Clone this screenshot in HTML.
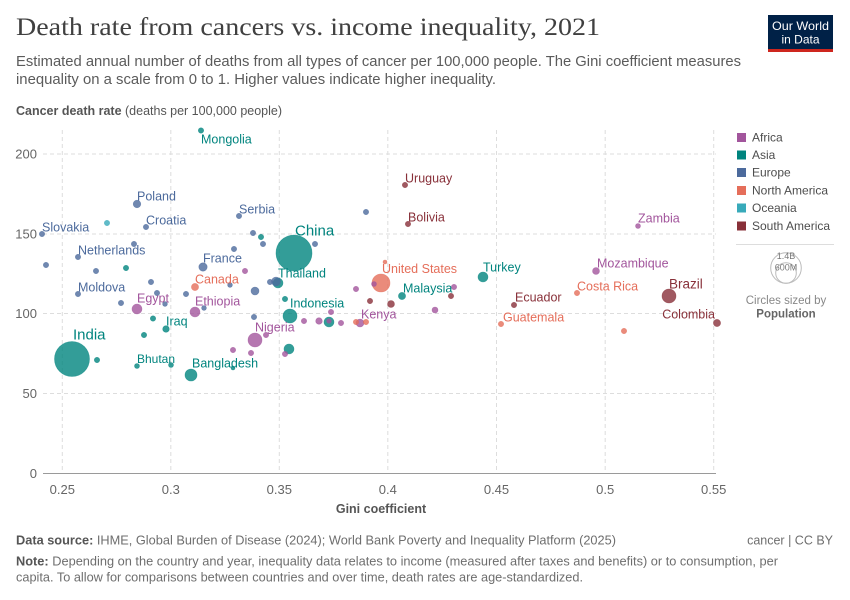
<!DOCTYPE html>
<html><head><meta charset="utf-8"><style>
html,body{margin:0;padding:0;background:#fff;}
svg{display:block;font-family:"Liberation Sans",sans-serif;}
</style></head><body>
<svg width="850" height="600" viewBox="0 0 850 600" xmlns="http://www.w3.org/2000/svg">
<!-- Header -->
<text x="16" y="35" font-family="Liberation Serif, serif" font-size="25" fill="#404040" textLength="584" lengthAdjust="spacingAndGlyphs">Death rate from cancers vs. income inequality, 2021</text>
<text x="16" y="66" font-size="14.5" fill="#5b5b5b" textLength="725" lengthAdjust="spacingAndGlyphs">Estimated annual number of deaths from all types of cancer per 100,000 people. The Gini coefficient measures</text>
<text x="16" y="84" font-size="14.5" fill="#5b5b5b" textLength="480" lengthAdjust="spacingAndGlyphs">inequality on a scale from 0 to 1. Higher values indicate higher inequality.</text>
<rect x="768" y="15" width="65" height="37" fill="#002147"/>
<rect x="768" y="49" width="65" height="3" fill="#ce261e"/>
<text x="800.5" y="30" font-size="12" fill="#fff" text-anchor="middle" textLength="57" lengthAdjust="spacingAndGlyphs">Our World</text>
<text x="800.5" y="43.5" font-size="12" fill="#fff" text-anchor="middle" textLength="38" lengthAdjust="spacingAndGlyphs">in Data</text>

<!-- Y axis title -->
<text x="16" y="115" font-size="12.5" fill="#555" textLength="266" lengthAdjust="spacingAndGlyphs"><tspan font-weight="bold">Cancer death rate</tspan> (deaths per 100,000 people)</text>

<!-- Grid -->
<g stroke="#dddddd" stroke-width="1" stroke-dasharray="4,3" fill="none">
<line x1="43" y1="154" x2="716" y2="154"/>
<line x1="43" y1="234" x2="716" y2="234"/>
<line x1="43" y1="313.5" x2="716" y2="313.5"/>
<line x1="43" y1="393.5" x2="716" y2="393.5"/>
<line x1="62.3" y1="130" x2="62.3" y2="473"/>
<line x1="170.8" y1="130" x2="170.8" y2="473"/>
<line x1="279.3" y1="130" x2="279.3" y2="473"/>
<line x1="387.8" y1="130" x2="387.8" y2="473"/>
<line x1="496.5" y1="130" x2="496.5" y2="473"/>
<line x1="605.2" y1="130" x2="605.2" y2="473"/>
<line x1="713.7" y1="130" x2="713.7" y2="473"/>
</g>
<line x1="43" y1="473.5" x2="716" y2="473.5" stroke="#9a9a9a" stroke-width="1"/>

<!-- Y ticks -->
<g font-size="13" fill="#666" text-anchor="end">
<text x="37" y="158.5">200</text>
<text x="37" y="238.5">150</text>
<text x="37" y="318">100</text>
<text x="37" y="398">50</text>
<text x="37" y="478">0</text>
</g>
<!-- X ticks -->
<g font-size="13" fill="#666" text-anchor="middle">
<text x="62.3" y="494">0.25</text>
<text x="170.8" y="494">0.3</text>
<text x="279.3" y="494">0.35</text>
<text x="387.8" y="494">0.4</text>
<text x="496.5" y="494">0.45</text>
<text x="605.2" y="494">0.5</text>
<text x="713.7" y="494">0.55</text>
</g>
<text x="381" y="513" font-size="12.5" font-weight="bold" fill="#555" text-anchor="middle">Gini coefficient</text>

<!-- Points: large first -->
<g fill-opacity="0.8" stroke-width="0.6" stroke-opacity="0.6">
<!-- big -->
<circle cx="294" cy="253" r="18" fill="#00847e" stroke="#00847e"/>
<circle cx="72" cy="359" r="17.5" fill="#00847e" stroke="#00847e"/>
<circle cx="381" cy="283" r="9" fill="#e56e5a" stroke="#e56e5a"/>
<circle cx="290" cy="316" r="7" fill="#00847e" stroke="#00847e"/>
<circle cx="255" cy="340" r="7" fill="#a2559c" stroke="#a2559c"/>
<circle cx="669" cy="296" r="7" fill="#883039" stroke="#883039"/>
<circle cx="191" cy="375" r="6" fill="#00847e" stroke="#00847e"/>
<circle cx="137" cy="309" r="5" fill="#a2559c" stroke="#a2559c"/>
<circle cx="195" cy="312" r="5" fill="#a2559c" stroke="#a2559c"/>
<circle cx="278" cy="283" r="5" fill="#00847e" stroke="#00847e"/>
<circle cx="329" cy="322" r="5" fill="#00847e" stroke="#00847e"/>
<circle cx="289" cy="349" r="5" fill="#00847e" stroke="#00847e"/>
<circle cx="483" cy="277" r="5" fill="#00847e" stroke="#00847e"/>
<circle cx="276" cy="281.5" r="4.5" fill="#4c6a9c" stroke="#4c6a9c"/>
<circle cx="203" cy="267" r="4.2" fill="#4c6a9c" stroke="#4c6a9c"/>
<circle cx="255" cy="291" r="4" fill="#4c6a9c" stroke="#4c6a9c"/>
<circle cx="360" cy="323" r="4" fill="#a2559c" stroke="#a2559c"/>
<circle cx="137" cy="204" r="3.8" fill="#4c6a9c" stroke="#4c6a9c"/>
<circle cx="195" cy="287" r="3.6" fill="#e56e5a" stroke="#e56e5a"/>
<circle cx="402" cy="296" r="3.6" fill="#00847e" stroke="#00847e"/>
<circle cx="391" cy="304" r="3.5" fill="#883039" stroke="#883039"/>
<circle cx="596" cy="271" r="3.5" fill="#a2559c" stroke="#a2559c"/>
<circle cx="717" cy="323" r="3.6" fill="#883039" stroke="#883039"/>
<circle cx="166" cy="329" r="3.3" fill="#00847e" stroke="#00847e"/>
<circle cx="319" cy="321" r="3.3" fill="#a2559c" stroke="#a2559c"/>
<circle cx="435" cy="310" r="3" fill="#a2559c" stroke="#a2559c"/>
<!-- small Europe -->
<circle cx="146" cy="227" r="2.7" fill="#4c6a9c" stroke="#4c6a9c"/>
<circle cx="42" cy="234" r="2.7" fill="#4c6a9c" stroke="#4c6a9c"/>
<circle cx="239" cy="216" r="2.7" fill="#4c6a9c" stroke="#4c6a9c"/>
<circle cx="134" cy="244" r="2.7" fill="#4c6a9c" stroke="#4c6a9c"/>
<circle cx="78" cy="257" r="2.7" fill="#4c6a9c" stroke="#4c6a9c"/>
<circle cx="46" cy="265" r="2.7" fill="#4c6a9c" stroke="#4c6a9c"/>
<circle cx="96" cy="271" r="2.7" fill="#4c6a9c" stroke="#4c6a9c"/>
<circle cx="78" cy="294" r="2.7" fill="#4c6a9c" stroke="#4c6a9c"/>
<circle cx="151" cy="282" r="2.7" fill="#4c6a9c" stroke="#4c6a9c"/>
<circle cx="157" cy="293" r="2.7" fill="#4c6a9c" stroke="#4c6a9c"/>
<circle cx="165" cy="304" r="2.4" fill="#4c6a9c" stroke="#4c6a9c"/>
<circle cx="121" cy="303" r="2.7" fill="#4c6a9c" stroke="#4c6a9c"/>
<circle cx="186" cy="294" r="2.7" fill="#4c6a9c" stroke="#4c6a9c"/>
<circle cx="204" cy="308" r="2.4" fill="#4c6a9c" stroke="#4c6a9c"/>
<circle cx="253" cy="233" r="2.7" fill="#4c6a9c" stroke="#4c6a9c"/>
<circle cx="263" cy="244" r="2.7" fill="#4c6a9c" stroke="#4c6a9c"/>
<circle cx="234" cy="249" r="2.7" fill="#4c6a9c" stroke="#4c6a9c"/>
<circle cx="315" cy="244" r="2.7" fill="#4c6a9c" stroke="#4c6a9c"/>
<circle cx="366" cy="212" r="2.7" fill="#4c6a9c" stroke="#4c6a9c"/>
<circle cx="230" cy="285" r="2.4" fill="#4c6a9c" stroke="#4c6a9c"/>
<circle cx="270" cy="282" r="2.7" fill="#4c6a9c" stroke="#4c6a9c"/>
<circle cx="254" cy="317" r="2.7" fill="#4c6a9c" stroke="#4c6a9c"/>
<!-- small Asia -->
<circle cx="201" cy="130.5" r="2.7" fill="#00847e" stroke="#00847e"/>
<circle cx="126" cy="268" r="2.7" fill="#00847e" stroke="#00847e"/>
<circle cx="261" cy="237" r="2.7" fill="#00847e" stroke="#00847e"/>
<circle cx="285" cy="299" r="2.7" fill="#00847e" stroke="#00847e"/>
<circle cx="153" cy="318.5" r="2.7" fill="#00847e" stroke="#00847e"/>
<circle cx="144" cy="335" r="2.7" fill="#00847e" stroke="#00847e"/>
<circle cx="97" cy="360" r="2.7" fill="#00847e" stroke="#00847e"/>
<circle cx="137" cy="366" r="2.5" fill="#00847e" stroke="#00847e"/>
<circle cx="171" cy="365" r="2.5" fill="#00847e" stroke="#00847e"/>
<circle cx="233" cy="368" r="2" fill="#00847e" stroke="#00847e"/>
<!-- Oceania -->
<circle cx="107" cy="223" r="2.7" fill="#38aaba" stroke="#38aaba"/>
<!-- small NA -->
<circle cx="385" cy="262" r="2" fill="#e56e5a" stroke="#e56e5a"/>
<circle cx="356" cy="322" r="2.7" fill="#e56e5a" stroke="#e56e5a"/>
<circle cx="366" cy="322" r="2.7" fill="#e56e5a" stroke="#e56e5a"/>
<circle cx="577" cy="293" r="2.7" fill="#e56e5a" stroke="#e56e5a"/>
<circle cx="501" cy="324" r="2.7" fill="#e56e5a" stroke="#e56e5a"/>
<circle cx="624" cy="331" r="2.7" fill="#e56e5a" stroke="#e56e5a"/>
<!-- small Africa -->
<circle cx="266" cy="335" r="2.7" fill="#a2559c" stroke="#a2559c"/>
<circle cx="233" cy="350" r="2.7" fill="#a2559c" stroke="#a2559c"/>
<circle cx="251" cy="353" r="2.7" fill="#a2559c" stroke="#a2559c"/>
<circle cx="285" cy="354" r="2.7" fill="#a2559c" stroke="#a2559c"/>
<circle cx="245" cy="271" r="2.7" fill="#a2559c" stroke="#a2559c"/>
<circle cx="304" cy="321" r="2.7" fill="#a2559c" stroke="#a2559c"/>
<circle cx="331" cy="312" r="2.7" fill="#a2559c" stroke="#a2559c"/>
<circle cx="329" cy="321" r="2.3" fill="#a2559c" stroke="#a2559c"/>
<circle cx="341" cy="323" r="2.7" fill="#a2559c" stroke="#a2559c"/>
<circle cx="356" cy="289" r="2.7" fill="#a2559c" stroke="#a2559c"/>
<circle cx="374" cy="284" r="2.5" fill="#a2559c" stroke="#a2559c"/>
<circle cx="454" cy="287" r="2.7" fill="#a2559c" stroke="#a2559c"/>
<circle cx="638" cy="226" r="2.5" fill="#a2559c" stroke="#a2559c"/>
<!-- small SA -->
<circle cx="405" cy="185" r="2.7" fill="#883039" stroke="#883039"/>
<circle cx="408" cy="224" r="2.7" fill="#883039" stroke="#883039"/>
<circle cx="370" cy="301" r="2.7" fill="#883039" stroke="#883039"/>
<circle cx="451" cy="296" r="2.7" fill="#883039" stroke="#883039"/>
<circle cx="514" cy="305" r="2.7" fill="#883039" stroke="#883039"/>
</g>

<!-- Labels -->
<g font-size="12.5">
<g fill="#00847e">
<text x="201" y="143.5">Mongolia</text>
<text x="166" y="325.5">Iraq</text>
<text x="137" y="363" font-size="12">Bhutan</text>
<text x="192" y="367.5">Bangladesh</text>
<text x="278" y="277.5">Thailand</text>
<text x="290" y="307.5">Indonesia</text>
<text x="403" y="292.5">Malaysia</text>
<text x="483" y="271.5">Turkey</text>
<text x="73" y="339.5" font-size="15">India</text>
<text x="295" y="235.5" font-size="15">China</text>
</g>
<g fill="#4c6a9c">
<text x="137" y="200.5">Poland</text>
<text x="146" y="224.5">Croatia</text>
<text x="42" y="231.5">Slovakia</text>
<text x="239" y="213.5">Serbia</text>
<text x="78" y="254.5">Netherlands</text>
<text x="203" y="262.5">France</text>
<text x="78" y="291.5">Moldova</text>
</g>
<g fill="#a2559c">
<text x="137" y="302.5">Egypt</text>
<text x="195" y="305.5">Ethiopia</text>
<text x="255" y="331.5">Nigeria</text>
<text x="361" y="318.5">Kenya</text>
<text x="638" y="222.5">Zambia</text>
<text x="597" y="267.5">Mozambique</text>
</g>
<g fill="#e56e5a">
<text x="195" y="283.5">Canada</text>
<text x="382" y="273">United States</text>
<text x="577" y="290.5">Costa Rica</text>
<text x="503" y="321.5">Guatemala</text>
</g>
<g fill="#883039">
<text x="405" y="182.5">Uruguay</text>
<text x="408" y="221.5">Bolivia</text>
<text x="669" y="288.5" font-size="13.5">Brazil</text>
<text x="515" y="301.5">Ecuador</text>
<text x="715" y="318.5" text-anchor="end">Colombia</text>
</g>
</g>

<!-- Legend -->
<g font-size="12" fill="#4d4d4d">
<rect x="737" y="133" width="9" height="9" fill="#a2559c"/><text x="752" y="141.5">Africa</text>
<rect x="737" y="150.5" width="9" height="9" fill="#00847e"/><text x="752" y="159">Asia</text>
<rect x="737" y="168" width="9" height="9" fill="#4c6a9c"/><text x="752" y="176.5">Europe</text>
<rect x="737" y="186" width="9" height="9" fill="#e56e5a"/><text x="752" y="194.5">North America</text>
<rect x="737" y="203.5" width="9" height="9" fill="#38aaba"/><text x="752" y="212">Oceania</text>
<rect x="737" y="221.5" width="9" height="9" fill="#883039"/><text x="752" y="230">South America</text>
</g>
<line x1="736" y1="244.5" x2="834" y2="244.5" stroke="#ddd" stroke-width="1"/>
<circle cx="786" cy="268" r="15.3" fill="none" stroke="#bbb" stroke-width="1"/>
<circle cx="786" cy="273" r="10.3" fill="none" stroke="#bbb" stroke-width="1"/>
<text x="786" y="259" font-size="9" fill="#777" text-anchor="middle">1.4B</text>
<text x="786" y="270.5" font-size="9" fill="#777" text-anchor="middle">600M</text>
<text x="786" y="304" font-size="11.5" fill="#888" text-anchor="middle">Circles sized by</text>
<text x="786" y="317.5" font-size="11.5" font-weight="bold" fill="#666" text-anchor="middle">Population</text>

<!-- Footer -->
<text x="16" y="544.5" font-size="12.5" fill="#6e6e6e" textLength="600" lengthAdjust="spacingAndGlyphs"><tspan font-weight="bold" fill="#555">Data source:</tspan> IHME, Global Burden of Disease (2024); World Bank Poverty and Inequality Platform (2025)</text>
<text x="833" y="544.5" font-size="12.5" fill="#6e6e6e" text-anchor="end">cancer | CC BY</text>
<text x="16" y="565.5" font-size="12.5" fill="#6e6e6e" textLength="762" lengthAdjust="spacingAndGlyphs"><tspan font-weight="bold" fill="#555">Note:</tspan> Depending on the country and year, inequality data relates to income (measured after taxes and benefits) or to consumption, per</text>
<text x="16" y="581.5" font-size="12.5" fill="#6e6e6e" textLength="567" lengthAdjust="spacingAndGlyphs">capita. To allow for comparisons between countries and over time, death rates are age-standardized.</text>
</svg>
</body></html>
